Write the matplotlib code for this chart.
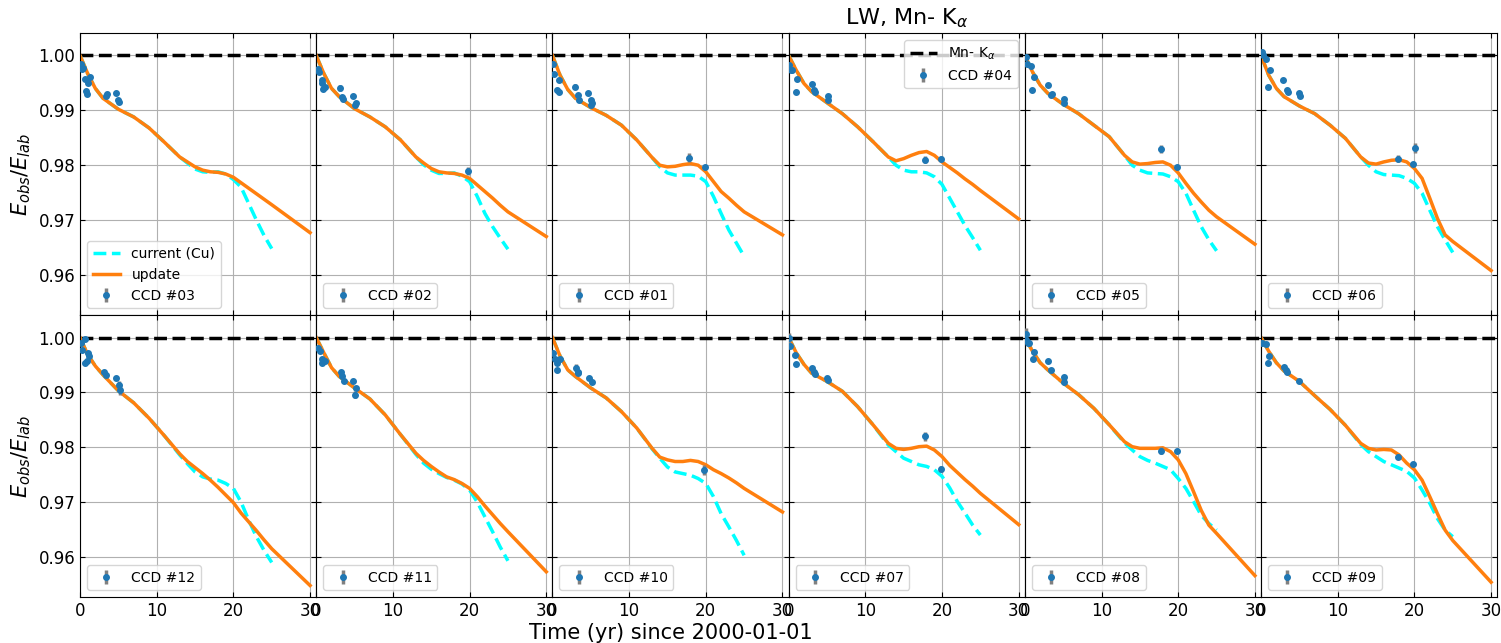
import matplotlib
matplotlib.use('Agg')
import matplotlib.pyplot as plt

# time nodes (yr since 2000-01-01)
t_cur = [0, 1, 2, 3, 5, 7, 9, 11, 13, 14, 15, 16, 17, 18, 19, 20, 21, 22, 23, 24, 25]
t_upd = t_cur + [30]

top_ccds = ['03', '02', '01', '04', '05', '06']
bottom_ccds = ['12', '11', '10', '07', '08', '09']

# "update" gain curve per CCD (nodes t_upd)
update = {
    '03': [1.0, 0.9967, 0.9940, 0.9922, 0.9902, 0.9888, 0.9868, 0.9842, 0.9815, 0.9806, 0.9797, 0.9791, 0.9788, 0.9787, 0.9784, 0.9778, 0.9768, 0.9758, 0.9748, 0.9738, 0.9728, 0.9677],
    '02': [1.0, 0.9967, 0.9940, 0.9925, 0.9903, 0.9888, 0.9870, 0.9846, 0.9815, 0.9804, 0.9794, 0.9788, 0.9786, 0.9785, 0.9782, 0.9776, 0.9764, 0.9752, 0.9740, 0.9727, 0.9715, 0.9670],
    '01': [1.0, 0.9964, 0.9938, 0.9922, 0.9905, 0.9891, 0.9873, 0.9846, 0.9814, 0.9800, 0.9797, 0.9798, 0.9801, 0.9803, 0.9800, 0.9788, 0.9770, 0.9752, 0.9740, 0.9727, 0.9715, 0.9673],
    '04': [1.0, 0.9973, 0.9949, 0.9934, 0.9914, 0.9894, 0.9870, 0.9843, 0.9815, 0.9808, 0.9812, 0.9818, 0.9823, 0.9825, 0.9818, 0.9806, 0.9796, 0.9786, 0.9775, 0.9765, 0.9754, 0.9702],
    '05': [1.0, 0.9970, 0.9946, 0.9931, 0.9911, 0.9894, 0.9873, 0.9852, 0.9818, 0.9806, 0.9802, 0.9803, 0.9805, 0.9806, 0.9800, 0.9786, 0.9767, 0.9749, 0.9733, 0.9718, 0.9706, 0.9656],
    '06': [1.0, 0.9964, 0.9940, 0.9925, 0.9908, 0.9894, 0.9873, 0.9849, 0.9815, 0.9804, 0.9802, 0.9806, 0.9809, 0.9810, 0.9806, 0.9794, 0.9776, 0.9740, 0.9703, 0.9673, 0.9661, 0.9608],
    '12': [1.0, 0.9969, 0.9948, 0.9932, 0.9903, 0.9881, 0.9853, 0.9821, 0.9788, 0.9774, 0.9763, 0.9752, 0.9740, 0.9727, 0.9713, 0.9699, 0.9680, 0.9664, 0.9648, 0.9631, 0.9615, 0.9548],
    '11': [1.0, 0.9972, 0.9945, 0.9929, 0.9908, 0.9888, 0.9859, 0.9823, 0.9789, 0.9776, 0.9765, 0.9755, 0.9746, 0.9741, 0.9734, 0.9725, 0.9710, 0.9693, 0.9677, 0.9661, 0.9646, 0.9573],
    '10': [1.0, 0.9966, 0.9941, 0.9929, 0.9908, 0.9890, 0.9865, 0.9835, 0.9798, 0.9782, 0.9777, 0.9774, 0.9774, 0.9776, 0.9774, 0.9768, 0.9759, 0.9752, 0.9744, 0.9735, 0.9725, 0.9682],
    '07': [1.0, 0.9972, 0.9951, 0.9935, 0.9920, 0.9902, 0.9874, 0.9841, 0.9807, 0.9798, 0.9796, 0.9798, 0.9801, 0.9802, 0.9795, 0.9783, 0.9767, 0.9754, 0.9741, 0.9729, 0.9716, 0.9659],
    '08': [1.0, 0.9975, 0.9954, 0.9941, 0.9917, 0.9896, 0.9871, 0.9841, 0.9810, 0.9801, 0.9798, 0.9798, 0.9798, 0.9799, 0.9792, 0.9777, 0.9752, 0.9719, 0.9685, 0.9658, 0.9643, 0.9566],
    '09': [1.0, 0.9975, 0.9954, 0.9939, 0.9920, 0.9894, 0.9869, 0.9840, 0.9807, 0.9798, 0.9795, 0.9796, 0.9795, 0.9786, 0.9771, 0.9759, 0.9740, 0.9710, 0.9679, 0.9649, 0.9630, 0.9554],
}

# "current (Cu)" curve: same as update up to 11 yr, then these values for 13..25 yr
current_tail = {
    '03': [0.9815, 0.9804, 0.9793, 0.9788, 0.9787, 0.9788, 0.9784, 0.9774, 0.9760, 0.9730, 0.9700, 0.9672, 0.9648],
    '02': [0.9815, 0.9801, 0.9791, 0.9785, 0.9785, 0.9786, 0.9780, 0.9770, 0.9743, 0.9712, 0.9688, 0.9667, 0.9647],
    '01': [0.9814, 0.9797, 0.9786, 0.9782, 0.9782, 0.9782, 0.9780, 0.9770, 0.9743, 0.9712, 0.9682, 0.9658, 0.9634],
    '04': [0.9815, 0.9800, 0.9791, 0.9788, 0.9788, 0.9786, 0.9779, 0.9765, 0.9740, 0.9715, 0.9690, 0.9668, 0.9645],
    '05': [0.9818, 0.9800, 0.9791, 0.9786, 0.9785, 0.9784, 0.9779, 0.9770, 0.9749, 0.9718, 0.9688, 0.9664, 0.9644],
    '06': [0.9815, 0.9800, 0.9788, 0.9783, 0.9782, 0.9781, 0.9776, 0.9767, 0.9749, 0.9718, 0.9688, 0.9664, 0.9641],
    '12': [0.9786, 0.9770, 0.9755, 0.9746, 0.9742, 0.9740, 0.9734, 0.9725, 0.9700, 0.9667, 0.9637, 0.9612, 0.9590],
    '11': [0.9787, 0.9771, 0.9760, 0.9752, 0.9745, 0.9740, 0.9733, 0.9722, 0.9700, 0.9673, 0.9646, 0.9618, 0.9593],
    '10': [0.9797, 0.9780, 0.9764, 0.9755, 0.9752, 0.9749, 0.9743, 0.9734, 0.9710, 0.9679, 0.9655, 0.9630, 0.9603],
    '07': [0.9804, 0.9792, 0.9780, 0.9774, 0.9768, 0.9765, 0.9759, 0.9747, 0.9726, 0.9701, 0.9680, 0.9658, 0.9640],
    '08': [0.9808, 0.9795, 0.9783, 0.9776, 0.9771, 0.9765, 0.9759, 0.9743, 0.9725, 0.9701, 0.9676, 0.9661, 0.9649],
    '09': [0.9805, 0.9792, 0.9783, 0.9774, 0.9768, 0.9762, 0.9756, 0.9744, 0.9722, 0.9698, 0.9670, 0.9649, 0.9637],
}

# measured line centroids (time, ratio, error)
obs_t = {
    '03': [0.1, 0.2, 0.4, 0.6, 0.8, 0.9, 1.1, 1.3, 3.4, 3.5, 4.7, 5.0, 5.1],
    '02': [0.2, 0.35, 0.7, 0.8, 0.9, 1.1, 3.05, 3.3, 3.5, 4.85, 5.1, 5.15, 19.8],
    '01': [0.1, 0.15, 0.6, 0.8, 0.9, 3.0, 3.3, 3.5, 4.7, 5.0, 5.05, 5.1, 17.8, 19.9],
    '04': [0.1, 0.3, 0.5, 1.0, 1.1, 3.05, 3.3, 3.5, 5.1, 5.15, 17.8, 19.9],
    '05': [0.1, 0.3, 0.75, 0.95, 1.2, 3.05, 3.45, 3.5, 5.1, 5.12, 17.8, 19.8],
    '06': [0.1, 0.3, 0.6, 0.85, 1.2, 2.9, 3.4, 3.5, 4.9, 5.1, 17.8, 19.8, 20.1],
    '12': [0.1, 0.3, 0.6, 0.7, 0.9, 1.05, 1.2, 3.1, 3.35, 4.75, 5.1, 5.2],
    '11': [0.2, 0.55, 0.7, 0.8, 1.1, 3.2, 3.4, 3.6, 4.8, 5.05, 5.15],
    '10': [0.1, 0.35, 0.65, 0.65, 1.0, 3.05, 3.3, 3.4, 4.8, 5.2, 19.8],
    '07': [0.1, 0.2, 0.8, 1.0, 3.05, 3.3, 3.4, 5.0, 5.15, 17.8, 19.9],
    '08': [0.1, 0.2, 0.45, 0.6, 1.0, 1.2, 3.05, 3.35, 5.1, 5.12, 17.8, 19.8],
    '09': [0.1, 0.6, 0.85, 1.1, 2.95, 3.3, 3.4, 5.0, 17.8, 19.8],
}
obs_y = {
    '03': [0.9985, 0.9975, 0.9978, 0.9958, 0.9935, 0.9930, 0.9950, 0.9960, 0.9927, 0.9930, 0.9932, 0.9918, 0.9915],
    '02': [0.9976, 0.9970, 0.9955, 0.9949, 0.9938, 0.9942, 0.9941, 0.9925, 0.9920, 0.9927, 0.9910, 0.9914, 0.9789],
    '01': [0.9985, 0.9967, 0.9937, 0.9955, 0.9934, 0.9943, 0.9928, 0.9919, 0.9931, 0.9918, 0.9910, 0.9914, 0.9814, 0.9796],
    '04': [0.9982, 0.9973, 0.9973, 0.9934, 0.9958, 0.9948, 0.9937, 0.9933, 0.9927, 0.9919, 0.9810, 0.9812],
    '05': [0.9998, 0.9985, 0.9980, 0.9937, 0.9961, 0.9946, 0.9928, 0.9930, 0.9920, 0.9913, 0.9829, 0.9797],
    '06': [1.0007, 1.0000, 0.9993, 0.9943, 0.9973, 0.9955, 0.9937, 0.9934, 0.9931, 0.9927, 0.9812, 0.9803, 0.9831],
    '12': [0.9990, 0.9978, 0.9998, 0.9954, 0.9957, 0.9972, 0.9966, 0.9938, 0.9932, 0.9926, 0.9914, 0.9905],
    '11': [0.9981, 0.9975, 0.9954, 0.9960, 0.9957, 0.9937, 0.9929, 0.9920, 0.9920, 0.9896, 0.9908],
    '10': [0.9972, 0.9960, 0.9954, 0.9940, 0.9960, 0.9945, 0.9935, 0.9938, 0.9926, 0.9918, 0.9759],
    '07': [0.9999, 0.9984, 0.9969, 0.9952, 0.9945, 0.9938, 0.9934, 0.9926, 0.9922, 0.9820, 0.9760],
    '08': [1.0007, 0.9996, 0.9990, 0.9990, 0.9960, 0.9973, 0.9957, 0.9940, 0.9928, 0.9918, 0.9794, 0.9793],
    '09': [0.9990, 0.9988, 0.9954, 0.9967, 0.9946, 0.9940, 0.9938, 0.9920, 0.9783, 0.9770],
}
obs_e = {
    '03': [0.0003, 0.0002, 0.0002, 0.0002, 0.0002, 0.0002, 0.0002, 0.0002, 0.0003, 0.0004, 0.0002, 0.0003, 0.0003],
    '02': [0.0002, 0.0002, 0.0002, 0.0002, 0.0002, 0.0002, 0.0005, 0.0002, 0.0002, 0.0002, 0.0002, 0.0002, 0.0007],
    '01': [0.0002, 0.0002, 0.0002, 0.0002, 0.0002, 0.0005, 0.0002, 0.0002, 0.0002, 0.0002, 0.0002, 0.0002, 0.0009, 0.0003],
    '04': [0.0002, 0.0002, 0.0002, 0.0002, 0.0002, 0.0003, 0.0002, 0.0002, 0.0002, 0.0002, 0.0006, 0.0004],
    '05': [0.0003, 0.0002, 0.0002, 0.0002, 0.0002, 0.0002, 0.0002, 0.0002, 0.0002, 0.0002, 0.0007, 0.0002],
    '06': [0.0003, 0.0002, 0.0002, 0.0002, 0.0002, 0.0002, 0.0002, 0.0002, 0.0002, 0.0002, 0.0007, 0.0002, 0.0009],
    '12': [0.0003, 0.0002, 0.0003, 0.0002, 0.0002, 0.0002, 0.0002, 0.0003, 0.0003, 0.0002, 0.0006, 0.0010],
    '11': [0.0002, 0.0002, 0.0002, 0.0002, 0.0002, 0.0003, 0.0003, 0.0002, 0.0002, 0.0006, 0.0003],
    '10': [0.0002, 0.0002, 0.0002, 0.0002, 0.0002, 0.0007, 0.0002, 0.0002, 0.0002, 0.0002, 0.0009],
    '07': [0.0010, 0.0002, 0.0002, 0.0002, 0.0002, 0.0002, 0.0002, 0.0002, 0.0002, 0.0008, 0.0005],
    '08': [0.0010, 0.0002, 0.0002, 0.0002, 0.0002, 0.0002, 0.0002, 0.0002, 0.0002, 0.0002, 0.0007, 0.0004],
    '09': [0.0005, 0.0002, 0.0002, 0.0002, 0.0002, 0.0002, 0.0002, 0.0002, 0.0005, 0.0004],
}

fig, axes = plt.subplots(2, 6, figsize=(15.01, 6.43), dpi=100, sharex=True, sharey=True)
fig.subplots_adjust(left=0.0533, right=0.9975, top=0.9487, bottom=0.0715, wspace=0, hspace=0)

for row, ccds in enumerate([top_ccds, bottom_ccds]):
    for col, ccd in enumerate(ccds):
        ax = axes[row, col]
        cur = update[ccd][:8] + current_tail[ccd]
        hl = ax.axhline(1.0, color='k', ls='--', lw=2.5, label='Mn- K$_\\alpha$')
        l1, = ax.plot(t_cur, cur, color='cyan', ls='--', lw=2.5, label='current (Cu)')
        l2, = ax.plot(t_upd, update[ccd], color='C1', lw=2.5, label='update')
        eb = ax.errorbar(obs_t[ccd], obs_y[ccd], yerr=obs_e[ccd], fmt='o', ms=4,
                         color='C0', ecolor='gray', elinewidth=2.5, label=f'CCD #{ccd}', zorder=3)
        ax.grid(True, color='#b0b0b0', lw=0.8)
        ax.tick_params(direction='in', top=True, right=True, labelsize=12)
        if ccd == '03':
            ax.legend(handles=[l1, l2, eb], loc='lower left', fontsize=10)
        elif ccd == '04':
            ax.legend(handles=[hl, eb], loc='upper right', fontsize=10)
        else:
            ax.legend(handles=[eb], loc='lower left', fontsize=10)

axes[0, 0].set_xlim(0, 30.8)
axes[0, 0].set_ylim(0.9527, 1.0041)
axes[0, 0].set_xticks([0, 10, 20, 30])
axes[0, 0].set_yticks([0.96, 0.97, 0.98, 0.99, 1.00])
axes[0, 0].set_yticklabels(['0.96', '0.97', '0.98', '0.99', '1.00'])

axes[0, 0].set_ylabel('$E_{obs}/E_{lab}$', fontsize=15)
axes[1, 0].set_ylabel('$E_{obs}/E_{lab}$', fontsize=15)
axes[1, 2].set_xlabel('Time (yr) since 2000-01-01', fontsize=15, labelpad=2)
axes[0, 3].set_title('LW, Mn- K$_\\alpha$', fontsize=16)

fig.savefig('out.png')
